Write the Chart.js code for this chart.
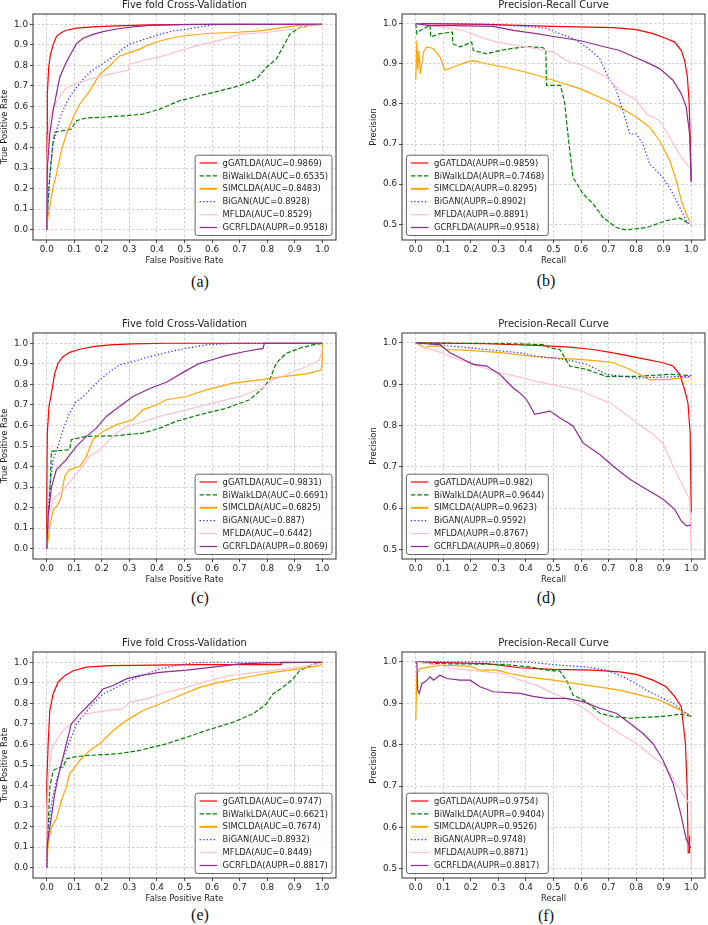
<!DOCTYPE html>
<html>
<head>
<meta charset="utf-8">
<script src="https://cdn.jsdelivr.net/npm/chart.js@4.4.1/dist/chart.umd.min.js"></script>
<style>
  body { margin: 0; background: #fff; width: 708px; height: 925px; position: relative; overflow: hidden; }
  .panel { position: absolute; }
  .cap { position: absolute; font-family: 'Liberation Serif', 'DejaVu Serif', serif; font-size: 16px; color: #111; transform: translate(-50%, -50%); }
</style>
</head>
<body>
<div class="panel" style="left:0;top:0;width:345px;height:268px"><canvas id="chartA"></canvas></div>
<div class="panel" style="left:354px;top:0;width:354px;height:268px"><canvas id="chartB"></canvas></div>
<div class="panel" style="left:0;top:319px;width:345px;height:268px"><canvas id="chartC"></canvas></div>
<div class="panel" style="left:354px;top:319px;width:354px;height:268px"><canvas id="chartD"></canvas></div>
<div class="panel" style="left:0;top:638px;width:345px;height:268px"><canvas id="chartE"></canvas></div>
<div class="panel" style="left:354px;top:638px;width:354px;height:268px"><canvas id="chartF"></canvas></div>
<div class="cap" style="left:200px;top:282px">(a)</div>
<div class="cap" style="left:546px;top:281px">(b)</div>
<div class="cap" style="left:200px;top:598px">(c)</div>
<div class="cap" style="left:546px;top:598px">(d)</div>
<div class="cap" style="left:200px;top:915px">(e)</div>
<div class="cap" style="left:546px;top:916px">(f)</div>
<script>
const methods = ['gGATLDA', 'BiWalkLDA', 'SIMCLDA', 'BiGAN', 'MFLDA', 'GCRFLDA'];
const rocMetric = ['AUC', 'AUC', 'AUC', 'AUC', 'AUC', 'AUPR'];
const prMetric = ['AUPR', 'AUPR', 'AUPR', 'AUPR', 'AUPR', 'AUPR'];

const xTicks = [0.0, 0.1, 0.2, 0.3, 0.4, 0.5, 0.6, 0.7, 0.8, 0.9, 1.0];
const rocYTicks = [0.0, 0.1, 0.2, 0.3, 0.4, 0.5, 0.6, 0.7, 0.8, 0.9, 1.0];
const prYTicks = [0.5, 0.6, 0.7, 0.8, 0.9, 1.0];

const aScores = [0.9869, 0.6535, 0.8483, 0.8928, 0.8529, 0.9518];
const bScores = [0.9859, 0.7468, 0.8295, 0.8902, 0.8891, 0.9518];
const cScores = [0.9831, 0.6691, 0.6825, 0.887, 0.6442, 0.8069];
const dScores = [0.982, 0.9644, 0.9623, 0.9592, 0.8767, 0.8069];
const eScores = [0.9747, 0.6621, 0.7674, 0.8932, 0.8449, 0.8817];
const fScores = [0.9754, 0.9404, 0.9526, 0.9748, 0.8871, 0.8817];

// (a) ROC
const aGat = [[0,0],[0.001,0.47],[0.002,0.66],[0.007,0.79],[0.013,0.85],[0.023,0.9],[0.035,0.94],[0.05,0.958],[0.071,0.971],[0.108,0.981],[0.168,0.987],[0.253,0.992],[0.374,0.997],[0.555,1],[1,1]];
const aWalk = [[0,0],[0.005,0.14],[0.011,0.27],[0.023,0.43],[0.029,0.474],[0.047,0.479],[0.089,0.49],[0.108,0.531],[0.144,0.544],[0.192,0.547],[0.289,0.555],[0.349,0.563],[0.41,0.587],[0.482,0.628],[0.555,0.652],[0.628,0.676],[0.7,0.701],[0.761,0.733],[0.797,0.79],[0.833,0.83],[0.863,0.903],[0.882,0.951],[0.918,0.984],[0.966,0.997],[1,1]];
const aSim = [[0,0],[0.004,0.06],[0.011,0.11],[0.023,0.21],[0.035,0.27],[0.053,0.385],[0.071,0.466],[0.096,0.547],[0.12,0.612],[0.156,0.676],[0.192,0.757],[0.229,0.798],[0.265,0.846],[0.301,0.862],[0.337,0.879],[0.374,0.903],[0.434,0.927],[0.495,0.943],[0.579,0.955],[0.676,0.96],[0.773,0.968],[0.857,0.984],[0.918,0.995],[1,1]];
const aGan = [[0,0],[0.005,0.14],[0.011,0.26],[0.023,0.42],[0.035,0.48],[0.05,0.55],[0.065,0.6],[0.08,0.64],[0.1,0.68],[0.13,0.73],[0.16,0.77],[0.2,0.806],[0.25,0.85],[0.28,0.885],[0.3,0.903],[0.35,0.925],[0.41,0.951],[0.46,0.968],[0.51,0.976],[0.555,0.987],[0.6,0.997],[0.68,1],[1,1]];
const aMf = [[0,0],[0,0.175],[0.001,0.34],[0.011,0.55],[0.029,0.61],[0.053,0.66],[0.071,0.689],[0.108,0.712],[0.156,0.733],[0.216,0.754],[0.297,0.777],[0.3,0.806],[0.337,0.819],[0.41,0.841],[0.482,0.871],[0.555,0.9],[0.628,0.922],[0.7,0.951],[0.797,0.96],[0.894,0.976],[1,1]];
const aGcr = [[0,0],[0.002,0.3],[0.011,0.466],[0.023,0.58],[0.035,0.66],[0.047,0.741],[0.065,0.798],[0.083,0.846],[0.108,0.906],[0.132,0.932],[0.168,0.951],[0.204,0.964],[0.253,0.977],[0.313,0.987],[0.374,0.994],[0.495,0.998],[0.615,1],[1,1]];

// (b) PR
const bGat = [[0,1],[0.257,0.998],[0.499,0.993],[0.716,0.99],[0.801,0.985],[0.861,0.975],[0.909,0.963],[0.94,0.954],[0.964,0.933],[0.976,0.908],[0.986,0.867],[0.992,0.809],[0.996,0.725],[1,0.609]];
const bWalk = [[0,1],[0.004,0.975],[0.016,0.983],[0.052,0.996],[0.054,0.967],[0.088,0.975],[0.133,0.979],[0.134,0.95],[0.161,0.942],[0.203,0.954],[0.209,0.933],[0.257,0.925],[0.318,0.935],[0.402,0.943],[0.463,0.94],[0.472,0.935],[0.475,0.846],[0.525,0.846],[0.533,0.825],[0.541,0.8],[0.547,0.759],[0.559,0.684],[0.571,0.617],[0.607,0.576],[0.644,0.551],[0.68,0.517],[0.728,0.492],[0.764,0.486],[0.837,0.492],[0.909,0.509],[0.958,0.516],[0.994,0.501]];
const bSim = [[0,0.86],[0.004,0.958],[0.007,0.884],[0.012,0.933],[0.016,0.875],[0.028,0.929],[0.04,0.942],[0.064,0.938],[0.088,0.917],[0.106,0.884],[0.136,0.892],[0.185,0.904],[0.209,0.908],[0.257,0.9],[0.318,0.892],[0.402,0.879],[0.499,0.859],[0.595,0.838],[0.692,0.809],[0.74,0.792],[0.801,0.767],[0.849,0.742],[0.885,0.709],[0.922,0.659],[0.946,0.609],[0.964,0.559],[0.982,0.526],[0.996,0.505]];
const bGan = [[0,1],[0.161,1],[0.318,0.996],[0.426,0.992],[0.475,0.988],[0.523,0.975],[0.571,0.963],[0.62,0.942],[0.668,0.913],[0.698,0.867],[0.728,0.834],[0.752,0.784],[0.777,0.725],[0.801,0.725],[0.825,0.7],[0.849,0.651],[0.897,0.617],[0.934,0.576],[0.964,0.534],[0.982,0.509],[1,0.497]];
const bMf = [[0,1],[0.088,0.992],[0.173,0.983],[0.233,0.967],[0.293,0.954],[0.402,0.942],[0.499,0.929],[0.547,0.908],[0.62,0.892],[0.692,0.867],[0.74,0.834],[0.801,0.809],[0.837,0.775],[0.885,0.759],[0.922,0.717],[0.964,0.667],[0.994,0.642]];
const bGcr = [[0,1],[0.052,0.995],[0.136,0.995],[0.281,0.993],[0.354,0.983],[0.438,0.975],[0.499,0.968],[0.595,0.958],[0.68,0.943],[0.74,0.933],[0.789,0.918],[0.837,0.904],[0.885,0.888],[0.934,0.859],[0.964,0.825],[0.982,0.792],[0.994,0.725],[1,0.605]];

// (c) ROC
const cGat = [[0,0],[0,0.24],[0.002,0.563],[0.008,0.693],[0.017,0.757],[0.029,0.854],[0.041,0.903],[0.059,0.935],[0.083,0.956],[0.12,0.971],[0.168,0.984],[0.229,0.992],[0.313,0.997],[0.434,1],[1,1]];
const cWalk = [[0,0],[0.005,0.14],[0.011,0.27],[0.017,0.474],[0.083,0.482],[0.089,0.531],[0.144,0.547],[0.253,0.55],[0.349,0.563],[0.41,0.587],[0.47,0.62],[0.555,0.652],[0.652,0.684],[0.736,0.725],[0.785,0.782],[0.809,0.822],[0.833,0.903],[0.869,0.951],[0.918,0.976],[0.966,0.992],[1,1]];
const cSim = [[0,0],[0.005,0.045],[0.011,0.11],[0.023,0.19],[0.041,0.215],[0.053,0.256],[0.065,0.353],[0.083,0.385],[0.12,0.401],[0.144,0.45],[0.168,0.531],[0.204,0.571],[0.253,0.604],[0.313,0.628],[0.349,0.676],[0.398,0.701],[0.434,0.725],[0.507,0.741],[0.579,0.773],[0.676,0.806],[0.773,0.822],[0.857,0.838],[0.942,0.851],[0.996,0.87],[1,0.903],[1,1]];
const cGan = [[0,0],[0.005,0.16],[0.011,0.3],[0.023,0.434],[0.041,0.498],[0.059,0.579],[0.077,0.644],[0.102,0.709],[0.132,0.741],[0.156,0.773],[0.192,0.822],[0.229,0.862],[0.265,0.895],[0.313,0.911],[0.374,0.935],[0.434,0.955],[0.507,0.976],[0.579,0.992],[0.676,1],[1,1]];
const cMf = [[0,0],[0.005,0.16],[0.023,0.24],[0.071,0.304],[0.12,0.385],[0.156,0.45],[0.192,0.482],[0.253,0.563],[0.289,0.595],[0.337,0.612],[0.41,0.644],[0.507,0.676],[0.603,0.709],[0.7,0.741],[0.785,0.782],[0.821,0.822],[0.882,0.854],[0.942,0.887],[0.99,0.919],[1,0.968]];
const cGcr = [[0,0],[0.005,0.16],[0.017,0.3],[0.035,0.385],[0.071,0.434],[0.089,0.466],[0.108,0.498],[0.144,0.547],[0.18,0.587],[0.216,0.644],[0.265,0.693],[0.313,0.741],[0.374,0.78],[0.434,0.81],[0.5,0.862],[0.55,0.9],[0.6,0.92],[0.65,0.94],[0.72,0.96],[0.785,0.975],[0.79,1],[1,1]];

// (d) PR
const dGat = [[0,1],[0.257,0.998],[0.438,0.994],[0.559,0.99],[0.644,0.984],[0.716,0.976],[0.777,0.968],[0.837,0.96],[0.897,0.952],[0.934,0.944],[0.958,0.924],[0.976,0.887],[0.988,0.855],[0.996,0.783],[1,0.589]];
const dWalk = [[0,1],[0.354,0.998],[0.463,0.996],[0.487,0.988],[0.523,0.984],[0.541,0.964],[0.559,0.944],[0.62,0.936],[0.692,0.919],[0.801,0.919],[0.922,0.924],[1,0.921]];
const dSim = [[0,1],[0.016,0.996],[0.03,0.988],[0.052,0.992],[0.088,0.992],[0.112,0.984],[0.197,0.982],[0.318,0.976],[0.402,0.969],[0.499,0.964],[0.595,0.96],[0.668,0.956],[0.716,0.952],[0.764,0.94],[0.813,0.924],[0.849,0.911],[0.909,0.911],[1,0.918]];
const dGan = [[0,1],[0.076,0.996],[0.136,0.992],[0.257,0.984],[0.378,0.976],[0.45,0.966],[0.547,0.96],[0.62,0.948],[0.692,0.924],[0.801,0.915],[0.922,0.918],[1,0.919]];
const dMf = [[0,1],[0.016,0.992],[0.076,0.98],[0.136,0.964],[0.209,0.948],[0.281,0.932],[0.354,0.921],[0.438,0.907],[0.523,0.895],[0.595,0.886],[0.644,0.871],[0.704,0.855],[0.764,0.827],[0.825,0.795],[0.861,0.779],[0.897,0.758],[0.934,0.702],[0.97,0.654],[0.994,0.622],[0.998,0.541],[1,0.501]];
const dGcr = [[0,1],[0.088,0.996],[0.124,0.976],[0.173,0.96],[0.209,0.948],[0.257,0.944],[0.305,0.924],[0.354,0.891],[0.378,0.879],[0.402,0.863],[0.432,0.827],[0.487,0.835],[0.523,0.819],[0.571,0.799],[0.607,0.758],[0.668,0.73],[0.716,0.702],[0.777,0.67],[0.837,0.646],[0.897,0.622],[0.94,0.597],[0.964,0.569],[0.982,0.557],[1,0.559]];

// (e) ROC
const eGat = [[0,0],[0,0.408],[0.005,0.603],[0.011,0.765],[0.023,0.846],[0.041,0.903],[0.065,0.935],[0.096,0.959],[0.144,0.976],[0.229,0.984],[0.555,0.989],[0.851,0.989],[0.851,1],[1,1]];
const eWalk = [[0,0],[0.005,0.198],[0.011,0.392],[0.023,0.473],[0.047,0.489],[0.059,0.489],[0.071,0.53],[0.096,0.538],[0.144,0.546],[0.253,0.554],[0.337,0.571],[0.434,0.603],[0.507,0.635],[0.579,0.668],[0.676,0.708],[0.749,0.749],[0.797,0.797],[0.821,0.846],[0.857,0.878],[0.894,0.919],[0.918,0.959],[0.966,0.989],[1,1]];
const eSim = [[0,0],[0.005,0.117],[0.017,0.198],[0.035,0.238],[0.053,0.327],[0.071,0.392],[0.083,0.457],[0.12,0.522],[0.156,0.571],[0.192,0.603],[0.241,0.668],[0.289,0.716],[0.349,0.765],[0.41,0.797],[0.482,0.838],[0.555,0.878],[0.628,0.903],[0.724,0.927],[0.821,0.951],[0.918,0.968],[0.99,0.984],[1,0.992]];
const eGan = [[0,0],[0.005,0.198],[0.017,0.311],[0.035,0.425],[0.053,0.506],[0.071,0.571],[0.089,0.635],[0.108,0.7],[0.138,0.749],[0.168,0.797],[0.204,0.846],[0.253,0.878],[0.313,0.919],[0.362,0.943],[0.41,0.968],[0.47,0.984],[0.531,0.997],[0.579,1],[1,1]];
const eMf = [[0,0],[0,0.279],[0.005,0.441],[0.017,0.571],[0.035,0.619],[0.059,0.668],[0.096,0.708],[0.144,0.749],[0.216,0.765],[0.277,0.773],[0.301,0.806],[0.362,0.822],[0.434,0.854],[0.507,0.878],[0.579,0.908],[0.676,0.938],[0.797,0.956],[0.918,0.976],[1,0.997]];
const eGcr = [[0,0],[0.002,0.117],[0.011,0.198],[0.029,0.36],[0.041,0.441],[0.053,0.506],[0.071,0.603],[0.089,0.7],[0.12,0.749],[0.156,0.797],[0.18,0.83],[0.204,0.87],[0.241,0.887],[0.289,0.919],[0.337,0.935],[0.41,0.951],[0.507,0.962],[0.603,0.976],[0.7,0.992],[0.797,0.997],[1,1]];

// (f) PR
const fGat = [[0,1],[0.257,0.996],[0.378,0.986],[0.499,0.982],[0.644,0.98],[0.74,0.976],[0.801,0.97],[0.861,0.956],[0.909,0.94],[0.94,0.916],[0.964,0.892],[0.979,0.803],[0.985,0.7],[0.989,0.539],[0.994,0.539],[0.994,0.58]];
const fWalk = [[0,1],[0.052,0.996],[0.318,0.994],[0.414,0.988],[0.475,0.98],[0.523,0.978],[0.547,0.956],[0.571,0.92],[0.62,0.904],[0.668,0.876],[0.716,0.868],[0.777,0.864],[0.825,0.866],[0.909,0.869],[0.958,0.874],[1,0.869]];
const fSim = [[0,0.86],[0.004,0.972],[0.016,0.984],[0.052,0.988],[0.088,0.992],[0.197,0.99],[0.233,0.98],[0.293,0.98],[0.342,0.972],[0.402,0.964],[0.499,0.956],[0.62,0.944],[0.74,0.932],[0.813,0.92],[0.885,0.908],[0.934,0.892],[0.982,0.876],[1,0.869]];
const fGan = [[0,1],[0.402,1],[0.523,0.992],[0.62,0.988],[0.692,0.98],[0.74,0.968],[0.789,0.952],[0.837,0.932],[0.885,0.916],[0.934,0.9],[0.982,0.876],[1,0.869]];
const fMf = [[0,1],[0.088,0.992],[0.136,0.984],[0.197,0.98],[0.257,0.976],[0.318,0.972],[0.378,0.956],[0.438,0.944],[0.499,0.924],[0.559,0.908],[0.62,0.884],[0.68,0.852],[0.74,0.827],[0.801,0.803],[0.861,0.771],[0.909,0.747],[0.958,0.691],[0.99,0.66],[1,0.66],[1,0.498]];
const fGcr = [[0,1],[0.004,0.996],[0.007,0.932],[0.013,0.924],[0.022,0.948],[0.034,0.952],[0.052,0.964],[0.064,0.956],[0.088,0.968],[0.112,0.96],[0.161,0.956],[0.197,0.956],[0.233,0.94],[0.281,0.928],[0.378,0.924],[0.426,0.917],[0.475,0.912],[0.547,0.912],[0.607,0.904],[0.668,0.888],[0.728,0.876],[0.777,0.852],[0.825,0.827],[0.861,0.803],[0.897,0.763],[0.934,0.707],[0.964,0.627],[0.982,0.571],[0.998,0.551]];

const lineColors = ['#ff0000', '#008000', '#ffa500', '#2b2bff', '#ffc0cb', '#8e2a94'];
const lineDashes = [[], [4.5, 2], [], [1.3, 2.2], [], []];
const FONT = '"DejaVu Sans", sans-serif';

Chart.defaults.font.family = FONT;
Chart.defaults.color = '#222';

// matplotlib-like box around the plot
const framePlugin = {
  id: 'frame',
  afterDatasetsDraw(chart) {
    const { ctx, chartArea: a } = chart;
    ctx.save();
    ctx.strokeStyle = '#333';
    ctx.lineWidth = 1;
    ctx.strokeRect(a.left, a.top, a.right - a.left, a.bottom - a.top);
    ctx.restore();
  }
};

// legend drawn inside the plot, framed, like plt.legend()
const boxLegend = {
  id: 'boxLegend',
  afterDraw(chart, args, opts) {
    const { ctx, chartArea: a } = chart;
    const sets = chart.data.datasets;
    const rowH = 12.9, padX = 4.5, handle = 17.5, gap = 5.5;
    ctx.save();
    ctx.font = '8.4px ' + FONT;
    const textW = Math.max(...sets.map(d => ctx.measureText(d.label).width));
    const w = padX + handle + gap + textW + 4;
    const h = 7.8 + rowH * (sets.length - 1) + 8;
    const x = opts.side === 'right' ? a.right - 4 - w : a.left + 4.4;
    const y = a.bottom - 4.5 - h;

    ctx.beginPath();
    ctx.roundRect(x, y, w, h, 2.5);
    ctx.fillStyle = 'rgba(255,255,255,0.85)';
    ctx.fill();
    ctx.strokeStyle = '#555';
    ctx.lineWidth = 0.9;
    ctx.stroke();

    sets.forEach((d, i) => {
      const cy = y + 7.8 + i * rowH;
      ctx.beginPath();
      ctx.setLineDash(d.borderDash || []);
      ctx.strokeStyle = d.borderColor;
      ctx.lineWidth = i === 2 ? 2 : d.borderWidth;
      ctx.moveTo(x + padX, cy);
      ctx.lineTo(x + padX + handle, cy);
      ctx.stroke();
      ctx.setLineDash([]);
      ctx.fillStyle = '#222';
      ctx.textBaseline = 'middle';
      ctx.textAlign = 'left';
      ctx.fillText(d.label, x + padX + handle + gap, cy + 0.5);
    });
    ctx.restore();
  }
};

function axisOpts(ticks, min, max, titleText, titlePad, fitSize, isY) {
  return {
    type: 'linear',
    min: min,
    max: max,
    afterBuildTicks: s => { s.ticks = ticks.map(v => ({ value: v })); },
    afterFit: s => { if (isY) s.width = fitSize; else s.height = fitSize; },
    ticks: {
      autoSkip: false,
      maxRotation: 0,
      padding: isY ? 2 : 1,
      color: '#222',
      font: { size: 8.8 },
      callback: v => Number(v).toFixed(1)
    },
    grid: {
      color: '#c4c4c4',
      lineWidth: 0.8,
      tickLength: 3,
      tickColor: '#333',
      tickWidth: 0.9,
      tickBorderDash: []
    },
    border: { display: false, dash: [2.5, 2] },
    title: {
      display: true,
      text: titleText,
      color: '#222',
      font: { size: 8.4, lineHeight: 1.2 },
      padding: titlePad
    }
  };
}

function makePanel(id, opts) {
  const datasets = opts.curves.map((pts, i) => ({
    label: methods[i] + '(' + opts.metric[i] + '=' + opts.scores[i] + ')',
    data: pts.map(p => ({ x: p[0], y: p[1] })),
    borderColor: lineColors[i],
    borderWidth: 1.2,
    borderDash: lineDashes[i],
    pointRadius: 0,
    tension: 0,
    fill: false,
    order: opts.curves.length - i
  }));

  return new Chart(document.getElementById(id), {
    type: 'line',
    data: { datasets },
    options: {
      responsive: true,
      maintainAspectRatio: false,
      animation: false,
      layout: { padding: { top: 0, left: 0, bottom: 0, right: opts.padRight } },
      plugins: {
        legend: { display: false },
        tooltip: { enabled: false },
        title: {
          display: true,
          text: opts.title,
          fullSize: false,
          color: '#222',
          font: { size: 10, weight: 'normal', lineHeight: 1 },
          padding: { top: 0, bottom: 4 }
        },
        boxLegend: { side: opts.legendSide }
      },
      scales: {
        x: axisOpts(xTicks, -0.05, 1.05, opts.xTitle, { top: 0, bottom: 2 }, 28, false),
        y: axisOpts(opts.yTicks, opts.yMin, opts.yMax, opts.yTitle, { top: opts.yTitlePad, bottom: 0 }, opts.yWidth, true)
      }
    },
    plugins: [framePlugin, boxLegend]
  });
}

const rocBase = {
  title: 'Five fold Cross-Validation', xTitle: 'False Positive Rate', yTitle: 'True Positive Rate',
  yTicks: rocYTicks, yMin: -0.05, yMax: 1.05, yWidth: 33, yTitlePad: 0, padRight: 9,
  metric: rocMetric, legendSide: 'right'
};
const prBase = {
  title: 'Precision-Recall Curve', xTitle: 'Recall', yTitle: 'Precision',
  yTicks: prYTicks, yWidth: 48, yTitlePad: 15, padRight: 3,
  metric: prMetric, legendSide: 'left'
};

makePanel('chartA', { ...rocBase, curves: [aGat, aWalk, aSim, aGan, aMf, aGcr], scores: aScores });
makePanel('chartB', { ...prBase, yMin: 0.461, yMax: 1.024, curves: [bGat, bWalk, bSim, bGan, bMf, bGcr], scores: bScores });
makePanel('chartC', { ...rocBase, curves: [cGat, cWalk, cSim, cGan, cMf, cGcr], scores: cScores });
makePanel('chartD', { ...prBase, yMin: 0.477, yMax: 1.024, curves: [dGat, dWalk, dSim, dGan, dMf, dGcr], scores: dScores });
makePanel('chartE', { ...rocBase, curves: [eGat, eWalk, eSim, eGan, eMf, eGcr], scores: eScores });
makePanel('chartF', { ...prBase, yMin: 0.478, yMax: 1.024, curves: [fGat, fWalk, fSim, fGan, fMf, fGcr], scores: fScores });
</script>
</body>
</html>
